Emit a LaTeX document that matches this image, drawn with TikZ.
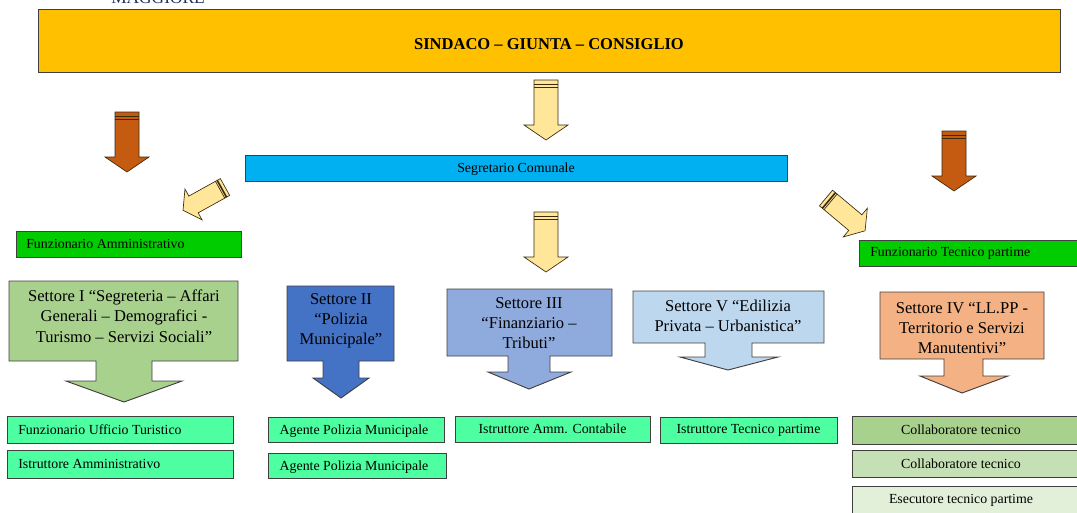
\documentclass[tikz,border=0pt]{standalone}
\usepackage{fontspec}
\setmainfont{Liberation Serif}
\usepackage{xcolor}
\usetikzlibrary{calc}

\tikzset{
  boxline/.style={draw=edgeGray, line width=0.7pt},
  lbl/.style={font=\fontsize{10.4}{12}\selectfont, inner sep=0pt},
  settext/.style={font=\fontsize{12.4}{15.2}\selectfont, align=center, inner sep=0pt},
  pics/blockarrow/.style={code={
    \filldraw[fill=#1, draw=arrowEdge, line width=0.5pt]
      (-12,0) -- (12,0) -- (12,45) -- (22,45) -- (0,60) -- (-22,45) -- (-12,45) -- cycle;
    \draw[arrowEdge, line width=1.2pt] (-12,4.5) -- (12,4.5);
    \draw[arrowEdge, line width=0.5pt] (-12,7) -- (12,7);
  }}
}

\begin{document}
\begin{tikzpicture}[x=0.75pt, y=-0.75pt]

\definecolor{edgeGray}{HTML}{404040}
\definecolor{arrowEdge}{HTML}{3A2A10}
\definecolor{titleBlue}{HTML}{1F2F5A}
\definecolor{topGold}{HTML}{FFC000}
\definecolor{rustBrown}{HTML}{C55A11}
\definecolor{paleGold}{HTML}{FFE699}
\definecolor{skyCyan}{HTML}{00B0F0}
\definecolor{funGreen}{HTML}{00CC00}
\definecolor{mint}{HTML}{4DFFA0}
\definecolor{setOne}{HTML}{A9D18E}
\definecolor{setTwo}{HTML}{4472C4}
\definecolor{setThree}{HTML}{8FAADC}
\definecolor{setFive}{HTML}{BDD7EE}
\definecolor{setFour}{HTML}{F4B183}
\definecolor{collA}{HTML}{A9D18E}
\definecolor{collB}{HTML}{C5E0B4}
\definecolor{collC}{HTML}{E2F0D9}

\useasboundingbox (0,0) rectangle (1077,512);

% ===== vertice =====
\node[font=\fontsize{13}{15}\selectfont, text=titleBlue, anchor=base, inner sep=0pt] (maggiore) at (158,3) {MAGGIORE};
\filldraw[boxline, fill=topGold] (38,9) rectangle (1060,72);
\node[font=\bfseries\fontsize{12.4}{14}\selectfont, inner sep=0pt] (sindaco) at (549,44) {SINDACO -- GIUNTA -- CONSIGLIO};

% frecce
\pic at (127,112) {blockarrow=rustBrown};
\pic at (954,131) {blockarrow=rustBrown};
\pic at (546,80) {blockarrow=paleGold};
\pic at (546,212) {blockarrow=paleGold};
\pic[rotate=-61, scale=0.8] at (225,187) {blockarrow=paleGold};
\pic[rotate=50, scale=0.85] at (826,198) {blockarrow=paleGold};

% ===== segretario e funzionari =====
\filldraw[boxline, fill=skyCyan] (245,155) rectangle (787,181);
\node[lbl] (segretario) at (516,169) {Segretario Comunale};

\filldraw[boxline, fill=funGreen] (16,231) rectangle (241,257);
\node[lbl, anchor=west] (funzAmm) at (26,244) {Funzionario Amministrativo};
\filldraw[boxline, fill=funGreen] (859,240) rectangle (1082,266);
\node[lbl, anchor=west] (funzTec) at (870,253) {Funzionario Tecnico partime};

% ===== settori =====
\filldraw[boxline, fill=setOne] (9,281) -- (238,281) -- (238,361) -- (152,361) -- (152,381)
  -- (182,381) -- (124,402) -- (66,381) -- (96,381) -- (96,361) -- (9,361) -- cycle;
\node[settext] (set1) at (124,316) {Settore I “Segreteria -- Affari\\Generali -- Demografici -\\Turismo -- Servizi Sociali”};

\filldraw[boxline, fill=setTwo] (287,286) -- (394,286) -- (394,361) -- (359,361) -- (359,378)
  -- (369,378) -- (341,398) -- (313,378) -- (323,378) -- (323,361) -- (287,361) -- cycle;
\node[settext] (set2) at (341,321) {Settore II\\“Polizia\\Municipale”};

\filldraw[boxline, fill=setThree] (447,289) -- (612,289) -- (612,356) -- (550,356) -- (550,372)
  -- (571,372) -- (529,389) -- (488,372) -- (508,372) -- (508,356) -- (447,356) -- cycle;
\node[settext] (set3) at (529,323) {Settore III\\“Finanziario --\\Tributi”};

\filldraw[boxline, fill=setFive] (633,291) -- (824,291) -- (824,343) -- (752,343) -- (752,357)
  -- (778,357) -- (728,370) -- (680,357) -- (705,357) -- (705,343) -- (633,343) -- cycle;
\node[settext] (set5) at (728,316) {Settore V “Edilizia\\Privata -- Urbanistica”};

\filldraw[boxline, fill=setFour] (880,292) -- (1044,292) -- (1044,359) -- (983,359) -- (983,376)
  -- (1008,376) -- (962,393) -- (920,376) -- (944,376) -- (944,359) -- (880,359) -- cycle;
\node[settext] (set4) at (962,328) {Settore IV “LL.PP -\\Territorio e Servizi\\Manutentivi”};

% ===== personale =====
\filldraw[boxline, fill=mint] (7,416) rectangle (233,443);
\node[lbl, anchor=west] (turist) at (18,429.5) {Funzionario Ufficio Turistico};
\filldraw[boxline, fill=mint] (7,450) rectangle (233,478);
\node[lbl, anchor=west] (istrAmm) at (18,464) {Istruttore Amministrativo};

\filldraw[boxline, fill=mint] (268,417) rectangle (444,442);
\node[lbl] (agente1) at (354,431) {Agente Polizia Municipale};
\filldraw[boxline, fill=mint] (268,453) rectangle (446,478);
\node[lbl] (agente2) at (354,467) {Agente Polizia Municipale};

\filldraw[boxline, fill=mint] (455,416) rectangle (650,442);
\node[lbl] (contab) at (552.5,429) {Istruttore Amm. Contabile};
\filldraw[boxline, fill=mint] (660,417) rectangle (837,443);
\node[lbl] (istrTec) at (748.5,430) {Istruttore Tecnico partime};

\filldraw[boxline, fill=collA] (852,416) rectangle (1082,444);
\node[lbl] (coll1) at (961,430) {Collaboratore tecnico};
\filldraw[boxline, fill=collB] (852,450) rectangle (1082,477);
\node[lbl] (coll2) at (961,463.5) {Collaboratore tecnico};
\filldraw[boxline, fill=collC] (852,486) rectangle (1082,520);
\node[lbl] (esec) at (961,500) {Esecutore tecnico partime};

\end{tikzpicture}
\end{document}
